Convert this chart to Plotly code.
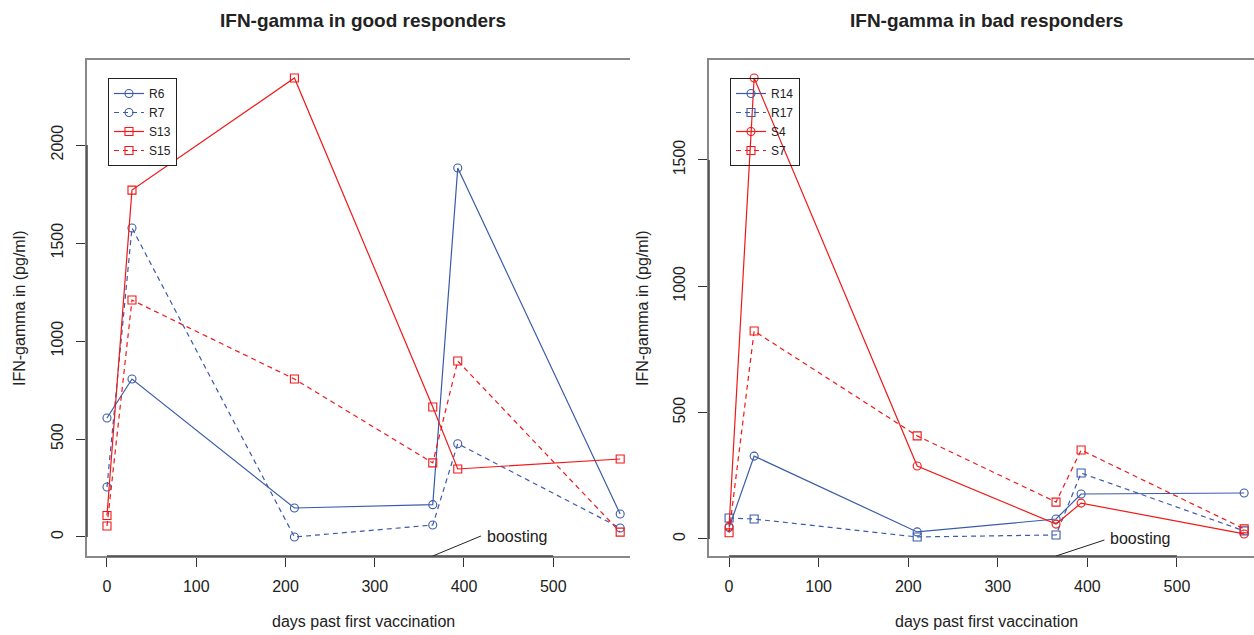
import plotly.graph_objects as go

days = [0, 28, 210, 365, 393, 575]

good_names = ["R6", "R7", "S13", "S15"]
R6 = [607, 806, 148, 165, 1883, 117]
R7 = [255, 1577, 0, 61, 476, 46]
S13 = [110, 1770, 2342, 663, 347, 398]
S15 = [56, 1209, 806, 378, 898, 25]

bad_names = ["R14", "R17", "S4", "S7"]
R14 = [45, 328, 28, 79, 178, 182]
R17 = [83, 79, 8, 16, 261, 32]
S4 = [50, 1824, 289, 59, 142, 20]
S7 = [25, 823, 408, 146, 352, 40]

boost_day = 365
x_ticks = [0, 100, 200, 300, 400, 500]
y_ticks_good = [0, 500, 1000, 1500, 2000]
y_ticks_bad = [0, 500, 1000, 1500]

BLUE = "#3A5BAA"
RED = "#F01818"
FONT = "Liberation Sans, Arial, Helvetica, sans-serif"
W, H = 1254, 635

fig = go.Figure()

def add(name, y, color, dash, symbol, xa, ya, legend):
    fig.add_trace(go.Scatter(
        x=days, y=y, name=name, mode="lines+markers",
        line=dict(color=color, width=1.2, dash=dash),
        marker=dict(symbol=symbol, size=8, color=color,
                    line=dict(color=color, width=1.1)),
        xaxis=xa, yaxis=ya, legend=legend, cliponaxis=False))

DASH = "5px,4px"
add("R6", R6, BLUE, "solid", "circle-open", "x", "y", "legend")
add("R7", R7, BLUE, DASH, "circle-open", "x", "y", "legend")
add("S13", S13, RED, "solid", "square-open", "x", "y", "legend")
add("S15", S15, RED, DASH, "square-open", "x", "y", "legend")

add("R14", R14, BLUE, "solid", "circle-open", "x2", "y2", "legend2")
add("R17", R17, BLUE, DASH, "square-open", "x2", "y2", "legend2")
add("S4", S4, RED, "solid", "circle-open", "x2", "y2", "legend2")
add("S7", S7, RED, DASH, "square-open", "x2", "y2", "legend2")

ybot, ytop = 1 - 556 / H, 1 - 60 / H
dl = (87 / W, 630 / W)
dr = (709 / W, 1.0)

TICKFONT = dict(family=FONT, size=16, color="#222")

def xaxis(domain, anchor):
    return dict(domain=domain, anchor=anchor, range=[-22.4, 586],
                tickvals=x_ticks, ticks="outside", ticklen=9, tickwidth=1,
                tickcolor="#333", showline=True, linecolor="#888", linewidth=1.5,
                mirror=True, showgrid=False, zeroline=False,
                ticklabelstandoff=6,
                tickfont=TICKFONT)

def yaxis(rng, ticks, anchor):
    return dict(domain=[ybot, ytop], anchor=anchor, range=rng,
                tickvals=ticks, ticks="outside", ticklen=9, tickwidth=1,
                tickcolor="#333", showline=True, linecolor="#888", linewidth=1.5,
                mirror=False, showgrid=False, zeroline=False, tickangle=-90,
                ticklabelstandoff=7,
                tickfont=TICKFONT)

yl_rng = [-97, 2434]
yr_rng = [-67.3, 1895.5]

fig.update_layout(
    width=W, height=H, margin=dict(l=0, r=0, t=0, b=0),
    paper_bgcolor="white", plot_bgcolor="white",
    font=dict(family=FONT, color="#222"),
    xaxis=xaxis(list(dl), "y"),
    yaxis=yaxis(yl_rng, y_ticks_good, "x"),
    xaxis2=xaxis(list(dr), "y2"),
    yaxis2=yaxis(yr_rng, y_ticks_bad, "x2"),
    legend=dict(x=108 / W, y=1 - 78 / H, xanchor="left", yanchor="top",
                bordercolor="#222", borderwidth=1, bgcolor="white",
                font=dict(family=FONT, size=12, color="#222"),
                tracegroupgap=0),
    legend2=dict(x=730 / W, y=1 - 78 / H, xanchor="left", yanchor="top",
                 bordercolor="#222", borderwidth=1, bgcolor="rgba(255,255,255,0)",
                 font=dict(family=FONT, size=12, color="#222"),
                 tracegroupgap=0),
    showlegend=True,
)

# darker axis segments over tick range
for xa, ya, yt in (("x", "y", y_ticks_good), ("x2", "y2", y_ticks_bad)):
    fig.add_shape(type="line", xref=xa, yref=ya + " domain",
                  x0=x_ticks[0], x1=x_ticks[-1], y0=0, y1=0,
                  line=dict(color="#444", width=1.5))
    fig.add_shape(type="line", xref=xa + " domain", yref=ya,
                  x0=0, x1=0, y0=yt[0], y1=yt[-1],
                  line=dict(color="#444", width=1.5))

# boosting annotation
for xa, ya, rng, ty in (("x", "y", yl_rng, 5), ("x2", "y2", yr_rng, -4)):
    fig.add_shape(type="line", xref=xa, yref=ya, x0=boost_day, y0=rng[0],
                  x1=boost_day + 54, y1=ty, line=dict(color="#222", width=1))
    fig.add_annotation(xref=xa, yref=ya, x=boost_day + 58, y=ty + (0 if xa == "x" else 6),
                       text="boosting", showarrow=False, xanchor="left", yanchor="middle",
                       font=dict(family=FONT, size=16, color="#222"))

# titles
for cx, title in ((363, "IFN-gamma in good responders"), (986, "IFN-gamma in bad responders")):
    fig.add_annotation(xref="paper", yref="paper", x=cx / W, y=1 - 21 / H,
                       text="<b>" + title + "</b>", showarrow=False,
                       xanchor="center", yanchor="middle",
                       font=dict(family=FONT, size=19, color="#222"))
    fig.add_annotation(xref="paper", yref="paper", x=cx / W, y=1 - 621 / H,
                       text="days past first vaccination", showarrow=False,
                       xanchor="center", yanchor="middle",
                       font=dict(family=FONT, size=16, color="#222"))

for cx in (20, 643):
    fig.add_annotation(xref="paper", yref="paper", x=cx / W, y=1 - 308 / H,
                       text="IFN-gamma in (pg/ml)", showarrow=False, textangle=-90,
                       xanchor="center", yanchor="middle",
                       font=dict(family=FONT, size=16, color="#222"))

fig.write_html("out.html", config={"displayModeBar": False},
               post_script="document.body.style.margin='0';document.body.style.overflow='hidden';")
